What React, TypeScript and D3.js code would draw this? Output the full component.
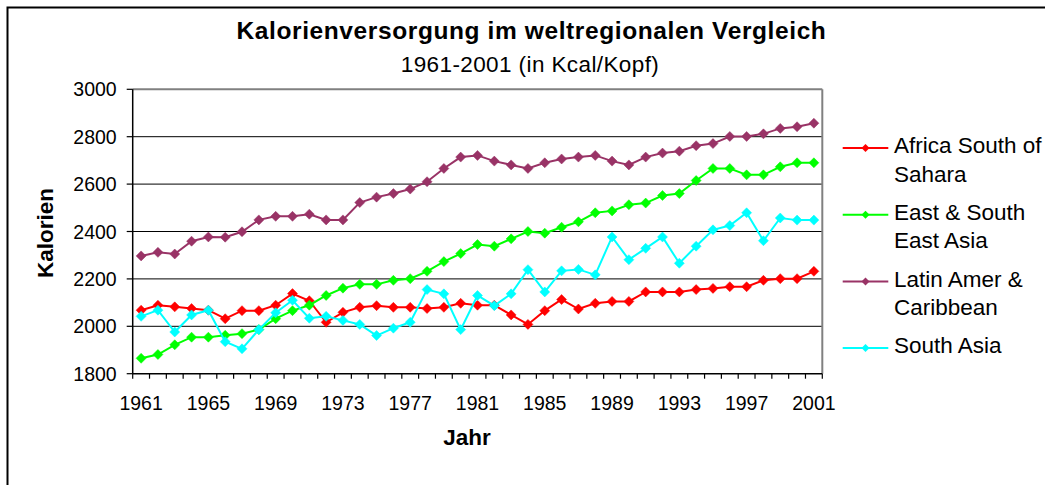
import React from "react";
import * as d3 from "d3";

const years: number[] = [
  1961, 1962, 1963, 1964, 1965, 1966, 1967, 1968, 1969, 1970,
  1971, 1972, 1973, 1974, 1975, 1976, 1977, 1978, 1979, 1980,
  1981, 1982, 1983, 1984, 1985, 1986, 1987, 1988, 1989, 1990,
  1991, 1992, 1993, 1994, 1995, 1996, 1997, 1998, 1999, 2000, 2001,
];

const africa: number[] = [
  2068, 2089, 2082, 2075, 2068, 2032, 2066, 2066, 2089, 2138,
  2108, 2017, 2059, 2080, 2087, 2080, 2080, 2075, 2080, 2097,
  2089, 2089, 2048, 2008, 2066, 2113, 2073, 2097, 2105, 2105,
  2145, 2145, 2145, 2155, 2160, 2167, 2167, 2194, 2201, 2201, 2232,
];

const eastAsia: number[] = [
  1865, 1881, 1922, 1954, 1954, 1962, 1969, 1986, 2032, 2066,
  2089, 2130, 2161, 2177, 2177, 2194, 2201, 2232, 2273, 2307,
  2345, 2338, 2369, 2400, 2393, 2418, 2441, 2479, 2487, 2513,
  2520, 2552, 2560, 2615, 2666, 2666, 2639, 2639, 2673, 2690, 2690,
];

const latinAmer: number[] = [
  2297, 2312, 2305, 2359, 2377, 2376, 2399, 2449, 2464, 2464,
  2473, 2449, 2449, 2522, 2545, 2560, 2579, 2610, 2666, 2714,
  2721, 2697, 2681, 2666, 2690, 2706, 2714, 2721, 2697, 2681,
  2714, 2731, 2739, 2762, 2771, 2801, 2801, 2812, 2835, 2842, 2857,
];

const southAsia: number[] = [
  2042, 2068, 1976, 2048, 2068, 1935, 1905, 1986, 2057, 2110,
  2034, 2042, 2025, 2008, 1961, 1992, 2017, 2155, 2137, 1986,
  2130, 2087, 2137, 2239, 2145, 2234, 2240, 2217, 2377, 2281,
  2329, 2377, 2266, 2338, 2407, 2425, 2479, 2361, 2457, 2448, 2448,
];

const seriesNames: string[][] = [
  ["Africa South of", "Sahara"],
  ["East & South", "East Asia"],
  ["Latin Amer &", "Caribbean"],
  ["South Asia"],
];
const seriesValues: number[][] = [africa, eastAsia, latinAmer, southAsia];
const seriesColors: string[] = ["#FF0000", "#00FF00", "#993366", "#00FFFF"];

const yTicks: number[] = [1800, 2000, 2200, 2400, 2600, 2800, 3000];
const xLabelYears: number[] = [1961, 1965, 1969, 1973, 1977, 1981, 1985, 1989, 1993, 1997, 2001];

const titleText = "Kalorienversorgung im weltregionalen Vergleich";
const subtitleText = "1961-2001 (in Kcal/Kopf)";
const yTitle = "Kalorien";
const xTitle = "Jahr";

const W = 1045;
const H = 485;
const plotLeft = 132.7;
const plotRight = 822.3;
const plotTop = 89.3;
const plotBottom = 373.7;
const FONT = "Liberation Sans, Arial, sans-serif";

function diamond(cx: number, cy: number, r: number): string {
  return `M${cx},${cy - r}L${cx + r},${cy}L${cx},${cy + r}L${cx - r},${cy}Z`;
}

export default function App() {
  const x = d3
    .scaleBand<number>()
    .domain(years)
    .range([plotLeft, plotRight])
    .padding(0);
  const y = d3.scaleLinear().domain([1800, 3000]).range([plotBottom, plotTop]);
  const cx = (yr: number) => (x(yr) as number) + x.bandwidth() / 2;

  const line = d3
    .line<number>()
    .x((_, i) => cx(years[i]))
    .y((v) => y(v));

  const boundaries = years.map((yr) => x(yr) as number).concat([plotRight]);

  const legendX0 = 842.7;
  const legendX1 = 888.3;
  const legendTextX = 894;
  const legendTop = 148;
  const legendStep = 66.7;

  return (
    <svg
      width={W}
      height={H}
      style={{ position: "absolute", left: 0, top: 0, background: "#fff" }}
      fontFamily={FONT}
    >
      <rect x={0} y={0} width={W} height={H} fill="#fff" />
      <rect x={7.5} y={7.5} width={W + 20} height={H + 20} fill="none" stroke="#000" strokeWidth={2} />

      <text x={531.5} y={38.7} textAnchor="middle" fontSize={24.5} fontWeight="bold" letterSpacing={0.6} fill="#000">
        {titleText}
      </text>
      <text x={530} y={72} textAnchor="middle" fontSize={22.5} letterSpacing={0.4} fill="#000">
        {subtitleText}
      </text>

      {/* gridlines */}
      {yTicks
        .filter((t) => t > 1800 && t < 3000)
        .map((t) => (
          <line key={t} x1={plotLeft} x2={plotRight} y1={y(t)} y2={y(t)} stroke="#000" strokeWidth={1} />
        ))}
      {/* plot border top & right */}
      <line x1={plotLeft} x2={plotRight} y1={y(3000)} y2={y(3000)} stroke="#808080" strokeWidth={2} />
      <line x1={plotRight} x2={plotRight} y1={plotTop} y2={plotBottom} stroke="#808080" strokeWidth={2} />

      {/* axes */}
      <line x1={plotLeft} x2={plotLeft} y1={plotTop} y2={plotBottom} stroke="#000" strokeWidth={1.5} />
      <line x1={plotLeft} x2={plotRight} y1={plotBottom} y2={plotBottom} stroke="#000" strokeWidth={1.5} />
      {yTicks.map((t) => (
        <g key={t}>
          <line x1={plotLeft - 6} x2={plotLeft} y1={y(t)} y2={y(t)} stroke="#000" strokeWidth={1.2} />
          <text x={116.7} y={y(t) + 7} textAnchor="end" fontSize={19.5} fill="#000">
            {t}
          </text>
        </g>
      ))}
      {boundaries.map((b, i) => (
        <line key={i} x1={b} x2={b} y1={plotBottom} y2={plotBottom + 5} stroke="#000" strokeWidth={1.2} />
      ))}
      {xLabelYears.map((yr) => (
        <text key={yr} x={cx(yr)} y={410} textAnchor="middle" fontSize={19.5} fill="#000">
          {yr}
        </text>
      ))}

      <text
        transform={`translate(53,233) rotate(-90)`}
        textAnchor="middle"
        fontSize={22.5}
        fontWeight="bold"
        fill="#000"
      >
        {yTitle}
      </text>
      <text x={467} y={445} textAnchor="middle" fontSize={22.5} fontWeight="bold" fill="#000">
        {xTitle}
      </text>

      {/* series */}
      {seriesValues.map((vals, si) => (
        <g key={si}>
          <path d={line(vals) as string} fill="none" stroke={seriesColors[si]} strokeWidth={2} />
          {vals.map((v, i) => (
            <path key={i} d={diamond(cx(years[i]), y(v), 5)} fill={seriesColors[si]} stroke={seriesColors[si]} strokeWidth={0.5} />
          ))}
        </g>
      ))}

      {/* legend */}
      {seriesNames.map((lines, si) => {
        const ly = legendTop + si * legendStep;
        return (
          <g key={si}>
            <line x1={legendX0} x2={legendX1} y1={ly} y2={ly} stroke={seriesColors[si]} strokeWidth={2} />
            <path d={diamond((legendX0 + legendX1) / 2, ly, 4)} fill={seriesColors[si]} />
            {lines.map((t, li) => (
              <text key={li} x={legendTextX} y={ly + 5.3 + li * 28.4} fontSize={22.5} fill="#000">
                {t}
              </text>
            ))}
          </g>
        );
      })}
    </svg>
  );
}
